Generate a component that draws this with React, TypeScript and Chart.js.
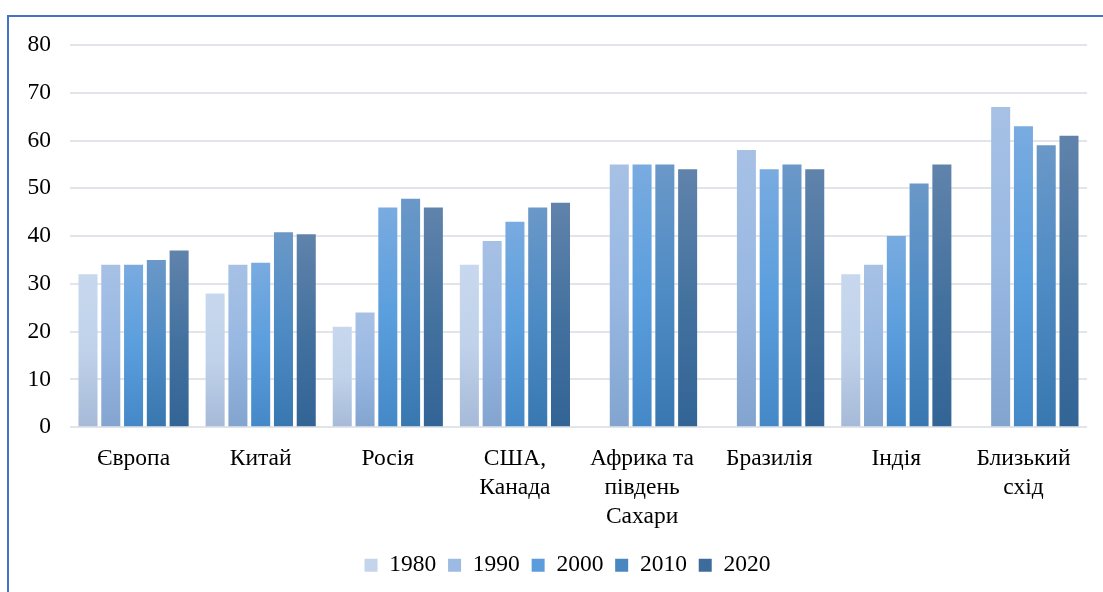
import React, { useEffect, useRef } from "react";
import { Chart, registerables } from "chart.js";

Chart.register(...registerables);

const categories: (string | string[])[] = [
  "Європа",
  "Китай",
  "Росія",
  ["США,", "Канада"],
  ["Африка та", "південь", "Сахари"],
  "Бразилія",
  "Індія",
  ["Близький", "схід"],
];

const seriesNames = ["1980", "1990", "2000", "2010", "2020"];

const v1980 = [32, 28, 21, 34, null, null, 32, null];
const v1990 = [34, 34, 24, 39, 55, 58, 34, 67];
const v2000 = [34, 34.4, 46, 43, 55, 54, 40, 63];
const v2010 = [35, 40.8, 47.8, 46, 55, 55, 51, 59];
const v2020 = [37, 40.4, 46, 47, 54, 54, 55, 61];

const seriesValues = [v1980, v1990, v2000, v2010, v2020];

const yTicks = [0, 10, 20, 30, 40, 50, 60, 70, 80];

// gradient stops (top, middle, bottom) per series
const gradients = [
  ["#c7d8ee", "#c0d2ea", "#a6b9d7"],
  ["#a7c1e5", "#98b8e2", "#82a4cf"],
  ["#79abe0", "#5a9edd", "#4588c7"],
  ["#6a98c8", "#4e8bc4", "#3977b0"],
  ["#6083ab", "#44729f", "#326496"],
];
const legendColors = ["#c3d4eb", "#9dbae2", "#5b9ddc", "#4a86c0", "#3d6b9c"];

const FONT = "'Liberation Serif', 'Times New Roman', serif";

const legendShift = {
  id: "legendShift",
  afterLayout(chart: any) {
    const lg = chart.legend;
    if (lg) {
      lg.left += 24;
      lg.right += 24;
    }
  },
};

export default function App() {
  const ref = useRef<HTMLCanvasElement | null>(null);

  useEffect(() => {
    if (!ref.current) return;
    const datasets = seriesNames.map((name, i) => ({
      label: name,
      data: seriesValues[i],
      borderWidth: 0,
      categoryPercentage: 0.896,
      barPercentage: 0.835,
      backgroundColor: (ctx: any) => {
        const stops = gradients[i];
        if (ctx.type !== "data") return legendColors[i];
        const chart = ctx.chart;
        const y = chart.scales && chart.scales.y;
        const v = ctx.raw;
        if (!y || v == null) return stops[1];
        const top = y.getPixelForValue(v);
        const bottom = y.getPixelForValue(0);
        if (!isFinite(top) || !isFinite(bottom) || top === bottom) return stops[1];
        const g = chart.ctx.createLinearGradient(0, top, 0, bottom);
        g.addColorStop(0, stops[0]);
        g.addColorStop(0.5, stops[1]);
        g.addColorStop(1, stops[2]);
        return g;
      },
    }));

    const chart = new Chart(ref.current, {
      type: "bar",
      data: { labels: categories as any, datasets: datasets as any },
      plugins: [legendShift],
      options: {
        animation: false,
        responsive: false,
        maintainAspectRatio: false,
        layout: { padding: { left: 0, right: 16, top: 45, bottom: 5 } },
        plugins: {
          tooltip: { enabled: false },
          legend: {
            position: "bottom",
            labels: {
              boxWidth: 13,
              boxHeight: 13,
              padding: 11.8,
              color: "#000",
              font: { family: FONT, size: 23.5 },
              generateLabels: (c: any) =>
                c.data.datasets.map((ds: any, i: number) => ({
                  text: ds.label,
                  fillStyle: legendColors[i],
                  strokeStyle: legendColors[i],
                  lineWidth: 0,
                  hidden: false,
                  datasetIndex: i,
                  fontColor: "#000",
                })),
            },
          },
        },
        scales: {
          x: {
            grid: { display: false, drawTicks: false },
            border: { display: false },
            ticks: {
              color: "#000",
              padding: 17,
              maxRotation: 0,
              autoSkip: false,
              font: { family: FONT, size: 23.5, lineHeight: 1.23 },
            },
            afterFit: (s: any) => {
              s.height = 114.5;
            },
          },
          y: {
            min: 0,
            max: 80,
            afterBuildTicks: (s: any) => {
              s.ticks = yTicks.map((v) => ({ value: v }));
            },
            grid: { color: "#e1e5ea", lineWidth: 2, drawTicks: false },
            border: { display: false },
            ticks: {
              color: "#000",
              padding: 19,
              font: { family: FONT, size: 23.5 },
            },
            afterFit: (s: any) => {
              s.width = 70;
            },
          },
        },
      },
    });
    return () => chart.destroy();
  }, []);

  return (
    <div>
      <canvas
        ref={ref}
        width={1103}
        height={592}
        style={{ position: "fixed", left: 0, top: 0, width: 1103, height: 592, background: "#fff" }}
      />
      <div
        style={{
          position: "fixed",
          left: 7,
          top: 15,
          width: 1200,
          height: 700,
          borderLeft: "2px solid #4472c4",
          borderTop: "2px solid #4472c4",
          pointerEvents: "none",
        }}
      />
    </div>
  );
}
